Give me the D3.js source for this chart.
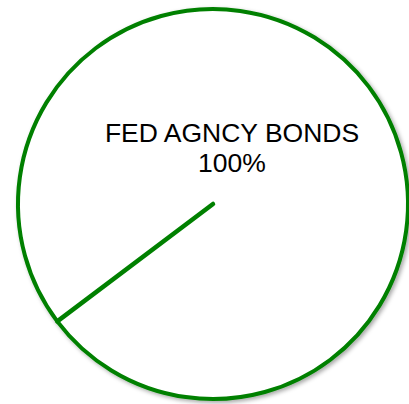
<!DOCTYPE html>
<html>
<head>
<meta charset="utf-8">
<script src="https://cdn.jsdelivr.net/npm/d3@7"></script>
<style>
  html, body { margin: 0; padding: 0; background: #fff; }
  svg { display: block; }
</style>
</head>
<body>
<div id="chart"></div>
<script>
// Data
const categories = ['FED AGNCY BONDS'];
const values = [100];

const width = 409, height = 404;
const cx = 213, cy = 204, radius = 195;

const svg = d3.select('#chart')
  .append('svg')
  .attr('width', width)
  .attr('height', height);

// soft shadow under the pie
const defs = svg.append('defs');
defs.append('filter')
  .attr('id', 'shadow')
  .attr('x', '-10%').attr('y', '-10%')
  .attr('width', '120%').attr('height', '120%')
  .append('feDropShadow')
  .attr('dx', 2).attr('dy', 2)
  .attr('stdDeviation', 2)
  .attr('flood-color', '#000')
  .attr('flood-opacity', 0.35);

const g = svg.append('g')
  .attr('transform', 'translate(' + cx + ',' + cy + ')');

const total = d3.sum(values);
const startDeg = 233;
const pie = d3.pie()
  .sort(null)
  .startAngle(startDeg * Math.PI / 180)
  .endAngle((startDeg + 360) * Math.PI / 180);

const arcs = pie(values);
const arc = d3.arc().innerRadius(0).outerRadius(radius);

g.selectAll('path.slice')
  .data(arcs)
  .enter()
  .append('path')
  .attr('class', 'slice')
  .attr('d', arc)
  .attr('fill', '#fff')
  .attr('stroke', '#008000')
  .attr('stroke-width', 4)
  .attr('stroke-linejoin', 'round')
  .attr('filter', 'url(#shadow)');

// slice edge (a full circle has no radial sides in d3.arc, so add it)
const edge = d3.lineRadial()
  .angle(p => p[0])
  .radius(p => p[1]);

g.selectAll('path.edge')
  .data(arcs)
  .enter()
  .append('path')
  .attr('class', 'edge')
  .attr('d', d => edge([[d.startAngle, 0], [d.startAngle, radius]]))
  .attr('fill', 'none')
  .attr('stroke', '#008000')
  .attr('stroke-width', 4.5)
  .attr('stroke-linecap', 'round');

// labels
const label = g.selectAll('text.label')
  .data(arcs)
  .enter()
  .append('text')
  .attr('class', 'label')
  .attr('transform', 'translate(19,-62)')
  .attr('text-anchor', 'middle')
  .style('font-family', '"Liberation Sans", Arial, sans-serif')
  .style('font-size', '26.5px')
  .attr('fill', '#000');

label.append('tspan')
  .attr('x', 0)
  .attr('y', 0)
  .text((d, i) => categories[i]);

label.append('tspan')
  .attr('x', 0)
  .attr('y', 30)
  .text(d => d3.format('.0f')(d.value / total * 100) + '%');
</script>
</body>
</html>
